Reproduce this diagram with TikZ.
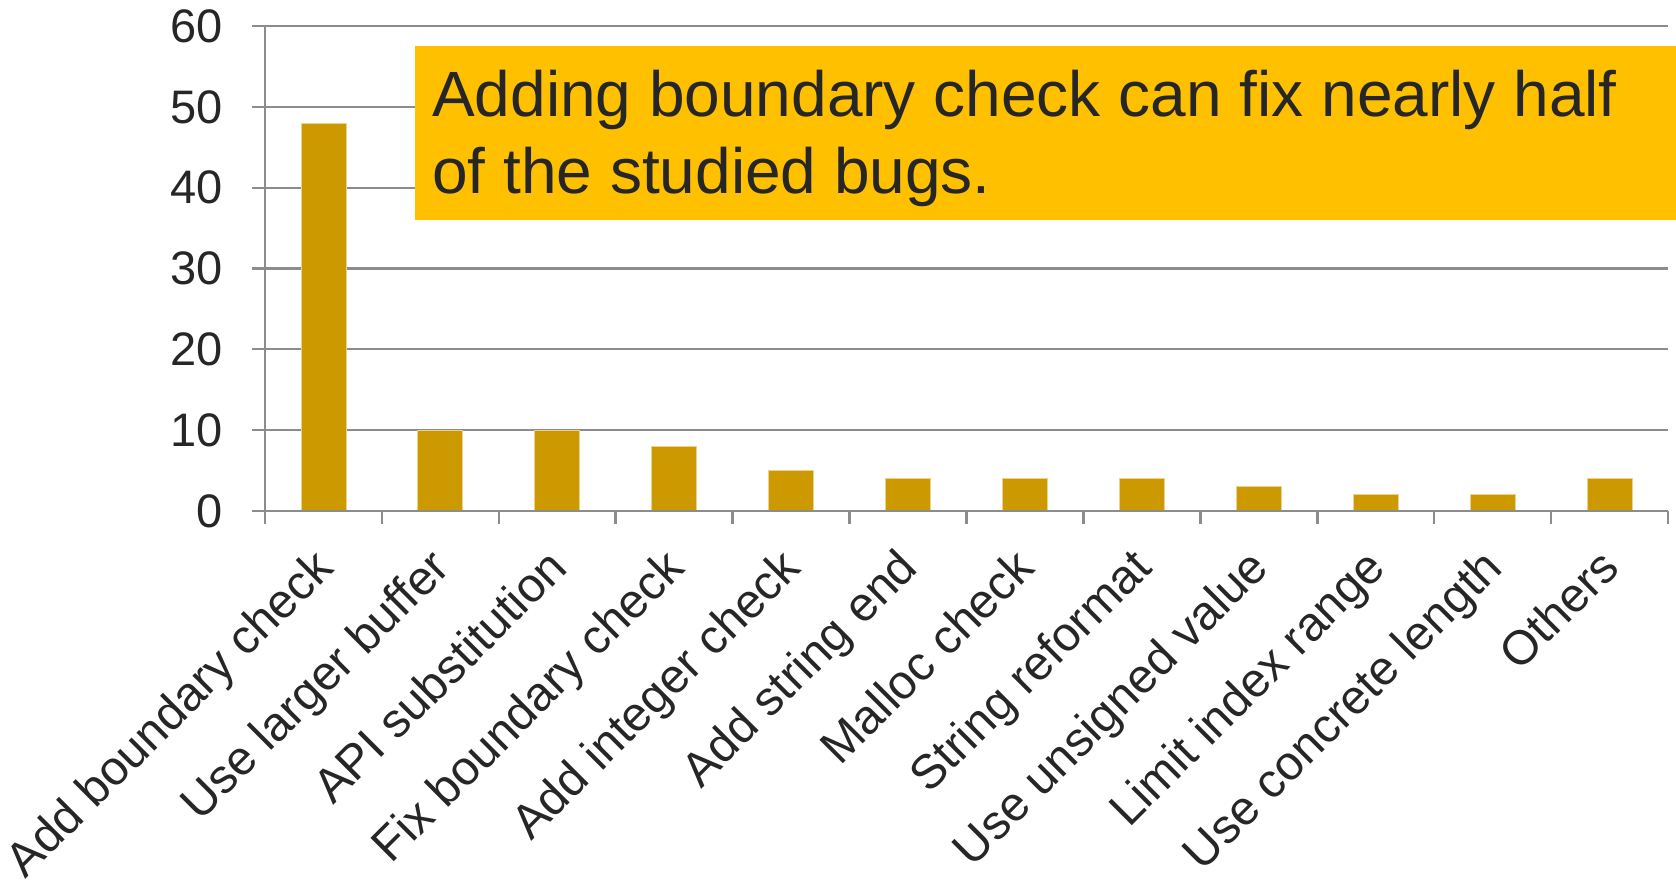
\documentclass[tikz,border=0pt]{standalone}
\usepackage{fontspec}
\setmainfont{Liberation Sans}
\definecolor{barfill}{HTML}{CC9900}
\definecolor{baredge}{HTML}{EBD28C}
\definecolor{gridgray}{HTML}{8C8C8C}
\definecolor{txt}{HTML}{262626}
\definecolor{callout}{HTML}{FFC000}
\begin{document}
\begin{tikzpicture}[x=1pt,y=-1pt,
  gridline/.style={draw=gridgray,line width=2.2pt},
  axisline/.style={draw=gridgray,line width=2.6pt},
  barbox/.style={fill=barfill,draw=baredge,line width=0.8pt},
  ylab/.style={anchor=east,inner sep=0pt,text=txt,font=\fontsize{47}{55}\selectfont},
  xlab/.style={anchor=base east,inner sep=0pt,rotate=45,text=txt,font=\fontsize{48}{56}\selectfont},
  calloutbox/.style={fill=callout},
  callouttext/.style={anchor=base west,inner sep=0pt,text=txt,font=\fontsize{64}{77}\selectfont}]
\useasboundingbox (0,0) rectangle (1676,884);
% gridlines and y labels
\foreach \k in {1,...,6}{
  \pgfmathsetmacro\yy{511-\k*80.833}
  \draw[gridline] (252,\yy) -- (1668,\yy);
}
\foreach \k in {0,...,6}{
  \pgfmathsetmacro\yy{511-\k*80.833}
  \pgfmathtruncatemacro\lab{\k*10}
  \node[ylab] (y\k) at (223,\yy) {\lab};
}
% bars and category labels
\foreach \v/\t [count=\i] in {48/Add boundary check,10/Use larger buffer,10/API substitution,8/Fix boundary check,5/Add integer check,4/Add string end,4/Malloc check,4/String reformat,3/Use unsigned value,2/Limit index range,2/Use concrete length,4/Others}{
  \pgfmathsetmacro\cc{265+(\i-0.5)*116.917}
  \pgfmathsetmacro\top{511-\v*8.0833}
  \draw[barbox] (\cc-22.5,511) rectangle (\cc+22.5,\top);
  \node[xlab] (c\i) at (\cc+12,570) {\t};
}
% axes and ticks
\draw[axisline] (252,511) -- (1668,511);
\draw[axisline] (265,26) -- (265,524);
\foreach \k in {1,...,12}{
  \pgfmathsetmacro\xx{265+\k*116.917}
  \draw[axisline] (\xx,511) -- (\xx,524);
}
% callout
\fill[calloutbox] (415,46) rectangle (1676,220);
\node[callouttext] (t1) at (432,116) {Adding boundary check can fix nearly half};
\node[callouttext] (t2) at (432,193) {of the studied bugs.};
\end{tikzpicture}
\end{document}
